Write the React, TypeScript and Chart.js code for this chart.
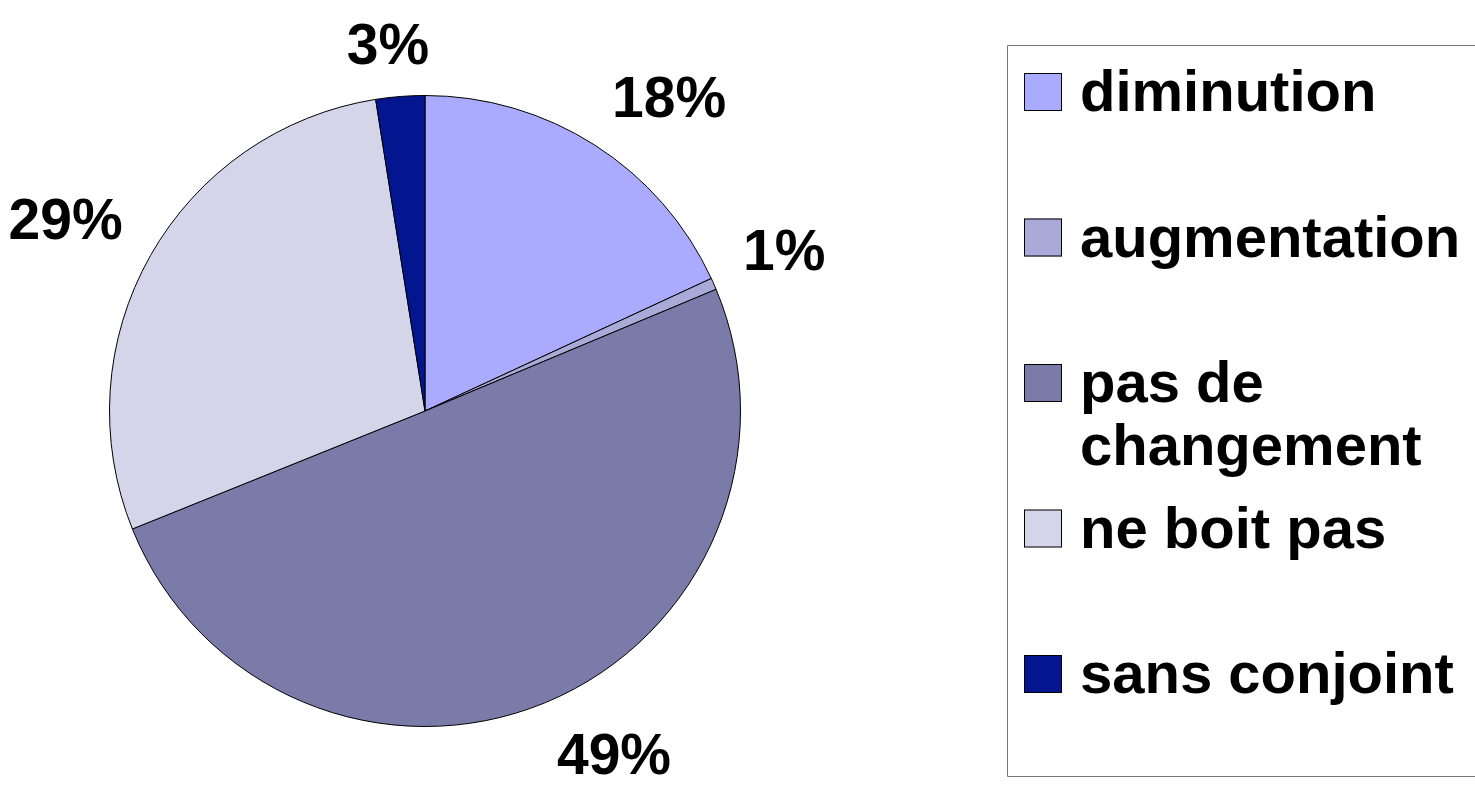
import React, { useEffect, useRef } from "react";
import { Chart, registerables } from "chart.js";

Chart.register(...registerables);

const categories = ["diminution", "augmentation", "pas de changement", "ne boit pas", "sans conjoint"];
const shares = [18.1, 0.6, 50.2, 28.6, 2.5];
const percentLabels = ["18%", "1%", "49%", "29%", "3%"];
const sliceColors = ["#AAAAFF", "#AAAAD9", "#7B7BAA", "#D5D5EA", "#03168F"];

const FONT_FAMILY = '"Liberation Sans", Arial, Helvetica, sans-serif';

const overlayPlugin = {
  id: "overlay",
  afterDraw(chart: any) {
    const ctx = chart.ctx as CanvasRenderingContext2D;
    const meta = chart.getDatasetMeta(0);
    ctx.save();
    // percentage labels
    const pSize = 57;
    ctx.font = `bold ${pSize}px ${FONT_FAMILY}`;
    ctx.fillStyle = "#000";
    ctx.textAlign = "center";
    ctx.textBaseline = "alphabetic";
    const capH = 0.716 * pSize;
    const hh = capH / 2 + 1;
    const clamp = (v: number) => Math.max(-1, Math.min(1, v));
    meta.data.forEach((arc: any, i: number) => {
      const p = arc.getProps(["x", "y", "startAngle", "endAngle", "outerRadius"], true);
      const mid = (p.startAngle + p.endAngle) / 2;
      const dx = Math.cos(mid);
      const dy = Math.sin(mid);
      const r = p.outerRadius + 32;
      const text = percentLabels[i];
      const hw = ctx.measureText(text).width / 2;
      const cx = p.x + r * dx + hw * clamp(3 * dx);
      const cy = p.y + r * dy + hh * clamp(3 * dy);
      ctx.fillText(text, cx, cy + capH / 2);
    });

    // legend box
    const boxLeft = 1007.5;
    const boxTop = 45.5;
    const boxBottom = 776.5;
    ctx.strokeStyle = "#777";
    ctx.lineWidth = 1;
    ctx.beginPath();
    ctx.moveTo(chart.width + 5, boxTop);
    ctx.lineTo(boxLeft, boxTop);
    ctx.lineTo(boxLeft, boxBottom);
    ctx.lineTo(chart.width + 5, boxBottom);
    ctx.stroke();

    const lSize = 58;
    ctx.font = `bold ${lSize}px ${FONT_FAMILY}`;
    ctx.textAlign = "left";
    const textX = 1080;
    const maxW = chart.width - textX;
    const firstBase = 111;
    const rowStep = 145.5;
    const lineH = 63;
    const sq = 38;
    categories.forEach((label, i) => {
      const base = firstBase + i * rowStep;
      ctx.fillStyle = sliceColors[i];
      ctx.fillRect(1024, base - sq, sq, sq);
      ctx.strokeStyle = "#000";
      ctx.lineWidth = 1;
      ctx.strokeRect(1024.5, base - sq + 0.5, sq - 1, sq - 1);
      // wrap words
      const words = label.split(" ");
      const lines: string[] = [];
      let cur = "";
      words.forEach((w) => {
        const test = cur ? cur + " " + w : w;
        if (ctx.measureText(test).width > maxW && cur) {
          lines.push(cur);
          cur = w;
        } else {
          cur = test;
        }
      });
      if (cur) lines.push(cur);
      ctx.fillStyle = "#000";
      lines.forEach((ln, j) => ctx.fillText(ln, textX, base + j * lineH));
    });
    ctx.restore();
  },
};

export default function App() {
  const ref = useRef<HTMLCanvasElement | null>(null);
  useEffect(() => {
    if (!ref.current) return;
    const chart = new Chart(ref.current, {
      type: "pie",
      data: {
        labels: categories,
        datasets: [
          {
            data: shares,
            backgroundColor: sliceColors,
            borderColor: "#000",
            borderWidth: 1,
            borderAlign: "center",
          },
        ],
      },
      options: {
        responsive: false,
        maintainAspectRatio: false,
        animation: false,
        layout: { padding: { left: 109, right: 734, top: 95, bottom: 58 } },
        plugins: {
          legend: { display: false },
          tooltip: { enabled: false },
        },
      },
      plugins: [overlayPlugin],
    });
    return () => chart.destroy();
  }, []);
  return (
    <div style={{ position: "fixed", left: 0, top: 0, width: 1475, height: 785, background: "#fff" }}>
      <canvas ref={ref} width={1475} height={785} style={{ display: "block" }} />
    </div>
  );
}
